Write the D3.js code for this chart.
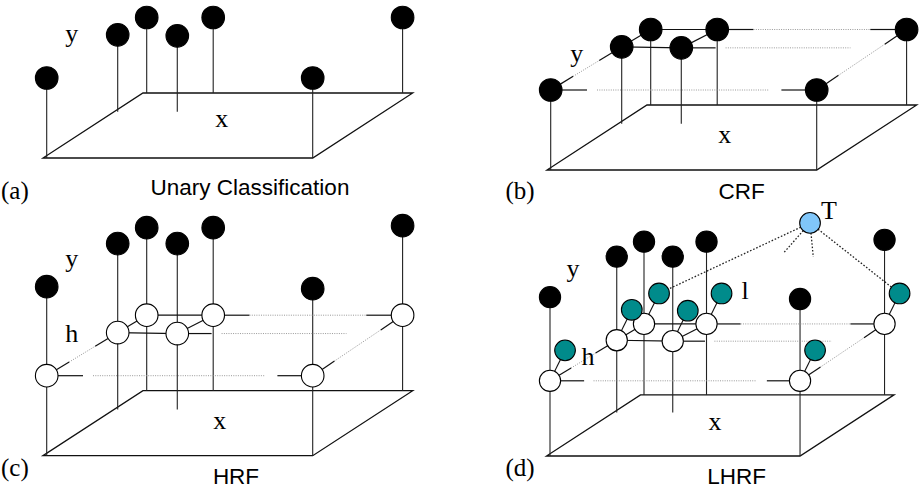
<!DOCTYPE html>
<html>
<head>
<meta charset="utf-8">
<script src="https://cdn.jsdelivr.net/npm/d3@7"></script>
<style>
  body { margin: 0; background: #fff; }
  .lbl { font-family: "Liberation Serif", "Times New Roman", serif; }
  .tag { font-family: "Liberation Serif", "Times New Roman", serif; }
  .ttl { font-family: "Liberation Sans", Arial, Helvetica, sans-serif; }
</style>
</head>
<body>
<svg id="fig" width="921" height="490"></svg>
<script>
// sites shared by all four panels: position along x and depth into the page
var siteU = [0, 0, 0, 0.224, 0.25, 1, 0.962];
var siteDepth = [0, 0.71, 1, 0.71, 1, 0, 1];
// node heights above the floor
var flatHeight = [80, 77, 75.5, 76, 75.5, 80, 75.5];
var stackedHeight = [169, 166, 163, 166, 163, 167, 165];

// grid links between sites (solid, or solid ends with a dotted middle)
var gridLinks = [
  {a: 1, b: 2, kind: 'solid'},
  {a: 3, b: 4, kind: 'solid'},
  {a: 1, b: 3, kind: 'solid'},
  {a: 2, b: 4, kind: 'solid'},
  {a: 0, b: 1, kind: 'diag'},
  {a: 5, b: 6, kind: 'diag'},
  {a: 4, b: 6, kind: 'back'},
  {a: 0, b: 5, kind: 'front'},
  {a: 3, b: null, kind: 'open'}
];
var openRowEnd = 0.86;

// latent layer sits a bit deeper and higher than the hidden layer
var latentDepthShift = 0.16, latentRaise = 22;

// topic node T and its links
var topic = {u: 0.664, d: 1, h: 183};
var topicLinks = [2, 6];
var topicStubs = [{u: 0.557, d: 1, h: 150.6}, {u: 0.677, d: 1, h: 146.7}];

var floorU = [-0.014, 1];

var panels = [
  {tag: '(a)', title: 'Unary Classification', ox: 46.7, oy: 158, s: 1,
   tagXY: [1, 199], titleXY: [250, 195], mode: 'unary',
   labels: [{t: 'y', dx: 25, dy: -116}, {t: 'x', dx: 175, dy: -31}]},
  {tag: '(b)', title: 'CRF', ox: 550.7, oy: 170, s: 1,
   tagXY: [505.5, 199], titleXY: [741.7, 199], mode: 'crf',
   labels: [{t: 'y', dx: 26, dy: -108}, {t: 'x', dx: 174, dy: -27}]},
  {tag: '(c)', title: 'HRF', ox: 46.7, oy: 455.7, s: 1,
   tagXY: [1, 476], titleXY: [236, 484], mode: 'hrf',
   labels: [{t: 'y', dx: 25, dy: -189}, {t: 'h', dx: 25, dy: -114}, {t: 'x', dx: 173, dy: -27}]},
  {tag: '(d)', title: 'LHRF', ox: 550, oy: 456, s: 0.94,
   tagXY: [505.5, 476], titleXY: [736.7, 484], mode: 'lhrf',
   labels: [{t: 'y', dx: 23, dy: -179}, {t: 'h', dx: 38, dy: -91}, {t: 'l', dx: 195, dy: -157},
            {t: 'T', dx: 279, dy: -236.7}, {t: 'x', dx: 165, dy: -26}]}
];

var svg = d3.select('#fig');
var ink = '#111', dotInk = '#999';

function drawPanel(p) {
  var g = svg.append('g');
  var xs = d3.scaleLinear().domain([0, 1]).range([p.ox, p.ox + 266 * p.s]);
  var dx = d3.scaleLinear().domain([0, 1]).range([0, 100 * p.s]);
  var dy = d3.scaleLinear().domain([0, 1]).range([0, -65 * p.s]);
  var hs = d3.scaleLinear().domain([0, 100]).range([0, -100 * p.s]);
  var r = 11.3 * p.s;

  function proj(u, d, h) { return [xs(u) + dx(d), p.oy + dy(d) + hs(h)]; }

  // floor
  var fl = [proj(floorU[0], 0, 0), proj(floorU[1], 0, 0), proj(floorU[1], 1, 0), proj(floorU[0], 1, 0)];
  g.append('path')
    .attr('d', d3.line()(fl) + 'Z')
    .attr('fill', 'none').attr('stroke', ink).attr('stroke-width', 1.3);

  var gridH = flatHeight;
  var topH = (p.mode == 'unary' || p.mode == 'crf') ? flatHeight : stackedHeight;
  var topNodes = siteU.map(function(u, i) { return proj(u, siteDepth[i], topH[i]); });
  var gridNodes = siteU.map(function(u, i) { return proj(u, siteDepth[i], gridH[i]); });

  // stems from the top node down to the floor
  siteU.forEach(function(u, i) {
    var f = proj(u, siteDepth[i], 0);
    g.append('line')
      .attr('x1', topNodes[i][0]).attr('y1', topNodes[i][1])
      .attr('x2', f[0]).attr('y2', f[1])
      .attr('stroke', '#222').attr('stroke-width', 1.1);
  });

  function seg(a, b, t0, t1, dotted) {
    var L = Math.hypot(b[0] - a[0], b[1] - a[1]);
    var ux = (b[0] - a[0]) / L, uy = (b[1] - a[1]) / L;
    if (t1 <= t0) return;
    g.append('line')
      .attr('x1', a[0] + ux * t0).attr('y1', a[1] + uy * t0)
      .attr('x2', a[0] + ux * t1).attr('y2', a[1] + uy * t1)
      .attr('stroke', dotted ? dotInk : ink)
      .attr('stroke-width', dotted ? 1 : 1.2)
      .attr('stroke-dasharray', dotted ? '1,1.3' : null);
  }

  var patterns = {
    front: [25, 10, 12, 24],
    back: [25, 0, 0, 25],
    diag: [15, 0, 0, 15]
  };

  if (p.mode != 'unary') {
    gridLinks.forEach(function(k) {
      var a = gridNodes[k.a];
      if (k.kind == 'open') {
        var e = proj(openRowEnd, siteDepth[k.a], gridH[k.a]);
        var L0 = Math.hypot(e[0] - a[0], e[1] - a[1]);
        seg(a, e, r, r + 23 * p.s, false);
        seg(a, e, r + 33 * p.s, L0, true);
        return;
      }
      var b = gridNodes[k.b];
      var L = Math.hypot(b[0] - a[0], b[1] - a[1]);
      if (k.kind == 'solid') { seg(a, b, 0, L, false); return; }
      var q = patterns[k.kind].map(function(v) { return v * p.s; });
      seg(a, b, r, r + q[0], false);
      seg(a, b, r + q[0] + q[1], L - r - q[3] - q[2], true);
      seg(a, b, L - r - q[3], L - r, false);
    });
  }

  var latentNodes = [];
  if (p.mode == 'lhrf') {
    latentNodes = siteU.map(function(u, i) {
      return proj(u, siteDepth[i] + latentDepthShift, gridH[i] + latentRaise);
    });
    latentNodes.forEach(function(l, i) {
      g.append('line')
        .attr('x1', gridNodes[i][0]).attr('y1', gridNodes[i][1])
        .attr('x2', l[0]).attr('y2', l[1])
        .attr('stroke', ink).attr('stroke-width', 1.1);
    });
    var tp = proj(topic.u, topic.d, topic.h);
    var ends = topicLinks.map(function(i) { return latentNodes[i]; })
      .concat(topicStubs.map(function(s) { return proj(s.u, s.d, s.h); }));
    ends.forEach(function(e) {
      g.append('line')
        .attr('x1', tp[0]).attr('y1', tp[1])
        .attr('x2', e[0]).attr('y2', e[1])
        .attr('stroke', '#222').attr('stroke-width', 1.3)
        .attr('stroke-dasharray', '1.6,1.8');
    });
  }

  function dots(nodes, fill, rad) {
    g.selectAll(null).data(nodes).enter().append('circle')
      .attr('cx', function(d) { return d[0]; })
      .attr('cy', function(d) { return d[1]; })
      .attr('r', rad)
      .attr('fill', fill)
      .attr('stroke', '#000').attr('stroke-width', 1.1);
  }

  if (p.mode == 'hrf' || p.mode == 'lhrf') dots(gridNodes, '#fff', r);
  if (p.mode == 'lhrf') {
    dots(latentNodes, '#008b8b', 11 * p.s);
    dots([proj(topic.u, topic.d, topic.h)], '#80c6f9', 11 * p.s);
  }
  dots(topNodes, '#000', r);

  // axis letters
  g.selectAll(null).data(p.labels).enter().append('text')
    .attr('class', 'lbl')
    .attr('x', function(d) { return p.ox + d.dx; })
    .attr('y', function(d) { return p.oy + d.dy; })
    .attr('text-anchor', 'middle')
    .attr('font-size', 26)
    .text(function(d) { return d.t; });

  g.append('text').attr('class', 'tag')
    .attr('x', p.tagXY[0]).attr('y', p.tagXY[1])
    .attr('font-size', 25).text(p.tag);
  g.append('text').attr('class', 'ttl')
    .attr('x', p.titleXY[0]).attr('y', p.titleXY[1])
    .attr('text-anchor', 'middle')
    .attr('font-size', 22.5).text(p.title);
}

panels.forEach(drawPanel);
</script>
</body>
</html>
